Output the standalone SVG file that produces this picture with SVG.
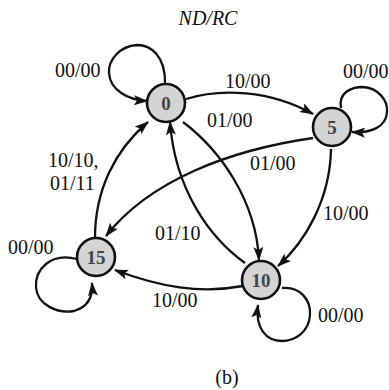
<svg xmlns="http://www.w3.org/2000/svg" width="389" height="390" viewBox="0 0 389 390">
<style>
.lbl{font-family:"Liberation Serif","Times New Roman",serif;font-size:20px;fill:#111}
.nd circle{fill:#d4d4d4;stroke:#111;stroke-width:2.6}
.nd text{font-family:"Liberation Serif","Times New Roman",serif;font-size:19px;font-weight:bold;fill:#444;text-anchor:middle}
.e{fill:none;stroke:#111;stroke-width:2.3;marker-end:url(#ah)}
</style>
<defs>
<marker id="ah" markerUnits="userSpaceOnUse" markerWidth="14" markerHeight="10" refX="13" refY="5" orient="auto">
<path d="M0,0 L14,5 L0,10 L3,5 Z" fill="#111"/>
</marker>
</defs>
<text class="lbl" x="208" y="25" text-anchor="middle" font-style="italic">ND/RC</text>
<g id="connectors">
<path class="e" d="M165 85 C166 55 150 45 137 45 C120 46 108 60 109 73 C110 90 128 100 147 101"/>
<path class="e" d="M186 99 C220 88 270 90 313 114"/>
<path class="e" d="M341 108 C338 92 352 87 363 87 C378 88 388 100 387 112 C386 128 370 133 352 132"/>
<path class="e" d="M313 138 C230 150 150 180 106 236"/>
<path class="e" d="M331 149 C330 200 305 242 278 266"/>
<path class="e" d="M183 122 C220 150 256 200 259 260"/>
<path class="e" d="M245 263 C210 238 175 190 170 122"/>
<path class="e" d="M95 238 C95 190 115 150 148 122"/>
<path class="e" d="M243 286 C200 294 160 287 115 270"/>
<path class="e" d="M77 259 C50 252 35 270 36 287 C37 305 58 314 74 311 C88 307 93 296 92 283"/>
<path class="e" d="M282 288 C300 286 311 300 310 315 C309 332 295 341 282 341 C266 341 255 328 258 305"/>
</g>
<g id="node-0" class="nd"><circle cx="166" cy="103" r="19"/><text x="166" y="110">0</text></g>
<g id="node-5" class="nd"><circle cx="332" cy="127" r="19"/><text x="332" y="134">5</text></g>
<g id="node-15" class="nd"><circle cx="96" cy="257" r="19"/><text x="96" y="264">15</text></g>
<g id="node-10" class="nd"><circle cx="261" cy="280" r="19"/><text x="261" y="287">10</text></g>
<g id="labels">
<text class="lbl" x="55" y="77">00/00</text>
<text class="lbl" x="225" y="88">10/00</text>
<text class="lbl" x="207" y="127">01/00</text>
<text class="lbl" x="343" y="78">00/00</text>
<text class="lbl" x="250" y="170">01/00</text>
<text class="lbl" x="48" y="167">10/10,</text>
<text class="lbl" x="50" y="190">01/11</text>
<text class="lbl" x="323" y="220">10/00</text>
<text class="lbl" x="155" y="240">01/10</text>
<text class="lbl" x="8" y="254">00/00</text>
<text class="lbl" x="152" y="307">10/00</text>
<text class="lbl" x="318" y="322">00/00</text>
<text class="lbl" x="227" y="384" text-anchor="middle">(b)</text>
</g>
</svg>
